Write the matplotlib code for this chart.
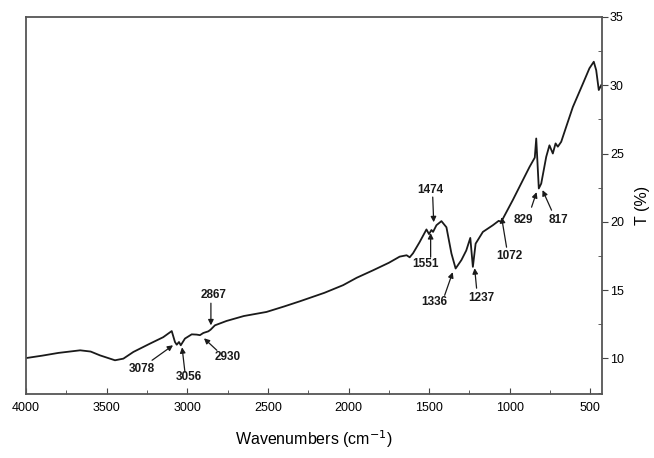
import numpy as np
import matplotlib.pyplot as plt
from matplotlib.ticker import MultipleLocator

plt.rcParams['font.family'] = ['Liberation Sans', 'DejaVu Sans']

# Espectro FTIR (numero de onda, transmitancia)
wn = [3996, 3900, 3800, 3665, 3600, 3542, 3449, 3397, 3335, 3232, 3150, 3097,
      3077, 3066, 3052, 3041, 3015, 2973, 2942, 2922, 2901, 2870, 2856, 2829,
      2757, 2650, 2509, 2400, 2302, 2150, 2034, 1950, 1848, 1750, 1683, 1640,
      1621, 1600, 1560, 1517, 1501, 1486, 1476, 1455, 1424, 1393, 1362, 1336,
      1300, 1270, 1245, 1229, 1212, 1167, 1105, 1069, 1053, 981, 919, 877,
      845, 836, 820, 805, 774, 754, 733, 716, 702, 681, 650, 609, 547, 506,
      479, 464, 448, 433]
trans = [10.03, 10.2, 10.4, 10.59, 10.5, 10.22, 9.86, 9.98, 10.47, 11.08, 11.55, 12.0,
         11.2, 11.0, 11.2, 10.96, 11.45, 11.76, 11.74, 11.7, 11.86, 11.98, 12.1, 12.42,
         12.74, 13.1, 13.4, 13.8, 14.18, 14.8, 15.36, 15.9, 16.45, 17.0, 17.45, 17.55,
         17.4, 17.7, 18.5, 19.44, 19.1, 19.4, 19.26, 19.75, 20.05, 19.6, 17.68, 16.58,
         17.2, 17.9, 18.82, 16.7, 18.4, 19.26, 19.75, 20.07, 20.0, 21.6, 23.05, 24.03,
         24.7, 26.1, 22.44, 22.8, 24.76, 25.6, 25.0, 25.74, 25.5, 25.86, 26.96, 28.4, 30.1, 31.24,
         31.72, 31.1, 29.65, 30.0]

# Etiquetas de picos
etiquetas = ['3078', '3056', '2930', '2867', '1474', '1551', '1336', '1237', '1072', '829', '817']
texto_wn = [3281, 2990, 2748, 2835, 1491, 1522, 1466, 1175, 1001, 914, 697]
texto_t = [9.20, 8.61, 10.08, 14.62, 22.32, 16.89, 14.11, 14.40, 17.48, 20.12, 20.12]
# Flechas: inicio y punta
ini_wn = [3219, 3015, 2817, 2854, 1478, 1491, 1404, 1206, 1020, 865, 741]
ini_t = [9.86, 8.98, 10.59, 14.04, 21.81, 17.41, 14.62, 15.14, 18.14, 21.07, 20.85]
punta_wn = [3089, 3033, 2897, 2854, 1472, 1491, 1354, 1218, 1051, 834, 797]
punta_t = [10.96, 10.81, 11.47, 12.42, 19.97, 19.17, 16.31, 16.6, 20.34, 22.17, 22.32]

fig = plt.figure(figsize=(6.54, 4.58), dpi=100)
ax = fig.add_axes([0.040, 0.140, 0.880, 0.823])

ax.plot(wn, trans, color='#1a1a1a', lw=1.3)

for lab, tw, tt in zip(etiquetas, texto_wn, texto_t):
    ax.text(tw, tt, lab, ha='center', va='center', fontsize=8.5,
            fontweight='bold', color='#1a1a1a')

for iw, it, pw, pt in zip(ini_wn, ini_t, punta_wn, punta_t):
    ax.annotate('', xy=(pw, pt), xytext=(iw, it),
                arrowprops=dict(arrowstyle='-|>', color='#1a1a1a', lw=0.9,
                                mutation_scale=8, shrinkA=0, shrinkB=0))

ax.set_xlim(4000, 430)
ax.set_ylim(7.4, 35)

ax.xaxis.set_major_locator(MultipleLocator(500))
ax.xaxis.set_minor_locator(MultipleLocator(250))
ax.yaxis.set_major_locator(MultipleLocator(5))
ax.yaxis.set_minor_locator(MultipleLocator(2.5))

ax.yaxis.tick_right()
ax.yaxis.set_label_position('right')
ax.set_yticks([10, 15, 20, 25, 30, 35])

ax.tick_params(axis='x', which='major', direction='in', length=4, labelsize=9, pad=6, color='#444')
ax.tick_params(axis='x', which='minor', direction='in', length=3, color='#444')
ax.tick_params(axis='y', which='major', direction='out', length=4, labelsize=9, pad=2, color='#444')
ax.tick_params(axis='y', which='minor', direction='in', length=3, color='#444')

for s in ax.spines.values():
    s.set_color('#555555')
    s.set_linewidth(1.3)

ax.set_xlabel('Wavenumbers (cm$^{-1}$)', fontsize=11.5, labelpad=10)
ax.set_ylabel('T (%)', fontsize=11.5, labelpad=8)

fig.savefig('out.png', dpi=100)
